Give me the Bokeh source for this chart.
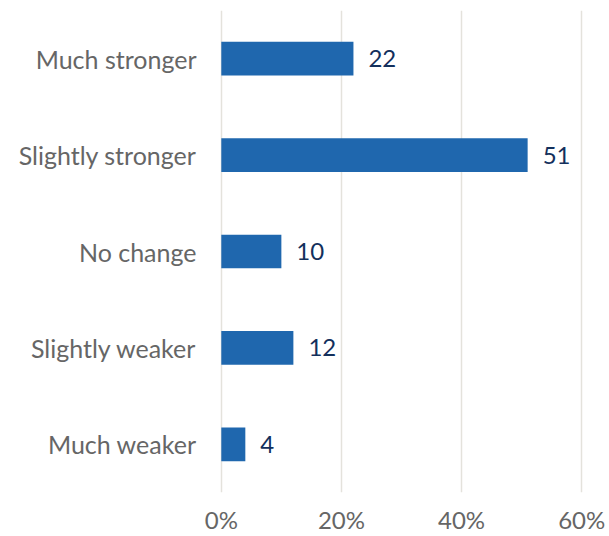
from bokeh.plotting import figure
from bokeh.models import ColumnDataSource, FixedTicker, Range1d, FactorRange, LabelSet, CustomJSTickFormatter
from bokeh.core.properties import value
from bokeh.embed import file_html
from bokeh.resources import INLINE

categories = ["Much stronger", "Slightly stronger", "No change", "Slightly weaker", "Much weaker"]
values = [22, 51, 10, 12, 4]
x_ticks = [0, 20, 40, 60]

src = ColumnDataSource(dict(cat=categories, val=values, lab=[str(v) for v in values]))

p = figure(width=606, height=536, output_backend="svg", toolbar_location=None,
           y_range=FactorRange(factors=list(reversed(categories)), range_padding=0),
           x_range=Range1d(-0.3, 60.3),
           min_border_left=219, min_border_right=23, min_border_top=10, min_border_bottom=38)
p.outline_line_color = None
p.hbar(y="cat", right="val", left=0, height=0.35, source=src, color="#1f67ae", line_color=None)

labels = LabelSet(x="val", y="cat", text="lab", source=src, x_offset=15,
                  text_align="left", text_baseline="middle", text_font=value("Lato"),
                  text_font_size="24px", text_color="#13305c")
p.add_layout(labels)

p.xaxis.ticker = FixedTicker(ticks=x_ticks)
p.xaxis.formatter = CustomJSTickFormatter(code="return tick + '%';")
for ax in (p.xaxis[0], p.yaxis[0]):
    ax.axis_line_color = None
    ax.major_tick_line_color = None
    ax.minor_tick_line_color = None
    ax.major_label_text_font = "Lato"
    ax.major_label_text_color = "#666666"
p.xaxis.major_label_text_font_size = "24px"
p.yaxis.major_label_text_font_size = "25px"
p.xaxis.major_label_standoff = 6
p.yaxis.major_label_standoff = 17

p.ygrid.grid_line_color = None
p.xgrid.ticker = FixedTicker(ticks=x_ticks)
p.xgrid.grid_line_color = "#e4e2dc"
p.xgrid.grid_line_width = 1.5

open("out.html", "w").write(file_html(p, INLINE))
